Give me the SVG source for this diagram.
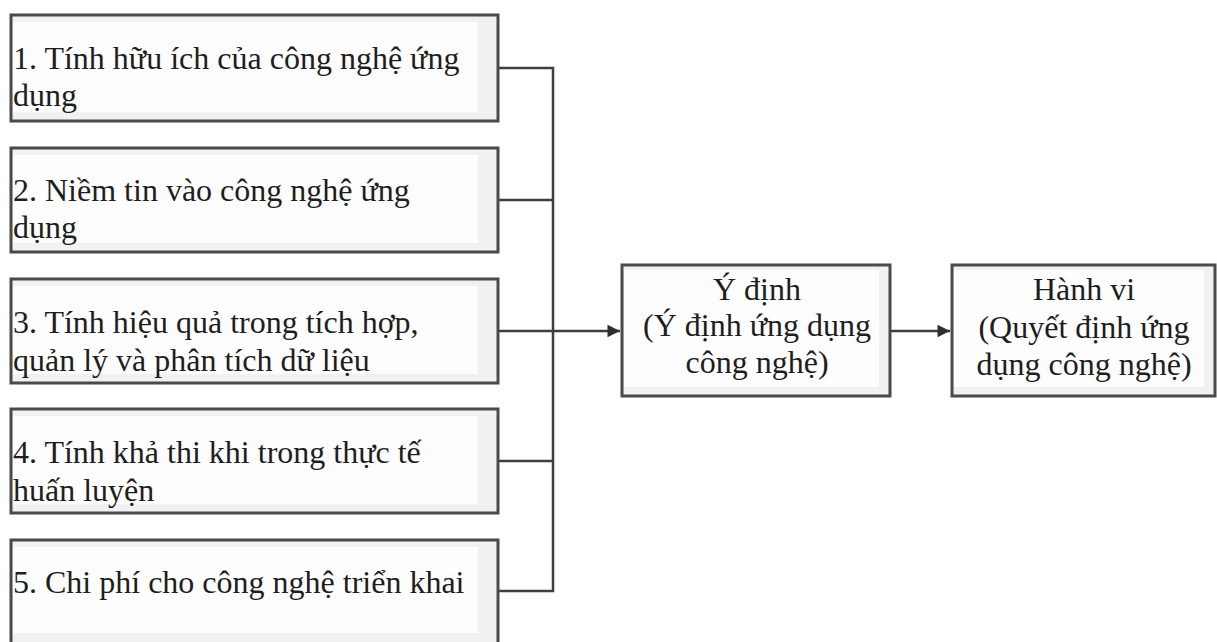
<svg xmlns="http://www.w3.org/2000/svg" width="1217" height="642" viewBox="0 0 1217 642">
  <defs>
    <style>
      .box { fill: #f1f1f1; stroke: #4a4a4a; stroke-width: 3; }
      .inner { fill: #fdfdfd; }
      .lbl { font-family: "Liberation Serif", "Times New Roman", serif; font-size: 32px; fill: #1e1e1e; }
      .mid { text-anchor: middle; }
      .wire { fill: none; stroke: #3f3f3f; stroke-width: 2.5; }
    </style>
    <marker id="arrow" viewBox="0 0 10 10" refX="10" refY="5" markerWidth="8" markerHeight="5" markerUnits="strokeWidth" orient="auto">
      <path d="M0,0 L10,5 L0,10 z" fill="#2e2e2e"/>
    </marker>
  </defs>

  <rect width="1217" height="642" fill="#ffffff"/>

  <!-- connectors: factor boxes join a shared bus feeding the intention box -->
  <g id="connectors">
    <path class="wire" d="M498,68 H553 V591 H498"/>
    <path class="wire" d="M498,200 H553"/>
    <path class="wire" d="M498,331 H553"/>
    <path class="wire" d="M498,461 H553"/>
    <path class="wire" d="M553,331 H620" marker-end="url(#arrow)"/>
    <path class="wire" d="M890,331 H950" marker-end="url(#arrow)"/>
  </g>

  <!-- factor 1 -->
  <g id="factor1">
    <rect class="box" x="11" y="15" width="487" height="106"/>
    <rect class="inner" x="13" y="22" width="465" height="90"/>
    <text class="lbl" x="13" y="69">1. Tính hữu ích của công nghệ ứng</text>
    <text class="lbl" x="13" y="106">dụng</text>
  </g>

  <!-- factor 2 -->
  <g id="factor2">
    <rect class="box" x="11" y="148" width="487" height="104"/>
    <rect class="inner" x="13" y="155" width="465" height="88"/>
    <text class="lbl" x="13" y="201">2. Niềm tin vào công nghệ ứng</text>
    <text class="lbl" x="13" y="238">dụng</text>
  </g>

  <!-- factor 3 -->
  <g id="factor3">
    <rect class="box" x="11" y="279" width="487" height="104"/>
    <rect class="inner" x="13" y="286" width="465" height="88"/>
    <text class="lbl" x="13" y="333">3. Tính hiệu quả trong tích hợp,</text>
    <text class="lbl" x="13" y="371">quản lý và phân tích dữ liệu</text>
  </g>

  <!-- factor 4 -->
  <g id="factor4">
    <rect class="box" x="11" y="409" width="487" height="104"/>
    <rect class="inner" x="13" y="416" width="465" height="88"/>
    <text class="lbl" x="13" y="463">4. Tính khả thi khi trong thực tế</text>
    <text class="lbl" x="13" y="501">huấn luyện</text>
  </g>

  <!-- factor 5 -->
  <g id="factor5">
    <rect class="box" x="11" y="540" width="487" height="106"/>
    <rect class="inner" x="13" y="547" width="465" height="86"/>
    <text class="lbl" x="13" y="593">5. Chi phí cho công nghệ triển khai</text>
  </g>

  <!-- intention -->
  <g id="intention">
    <rect class="box" x="622" y="265" width="268" height="131"/>
    <rect class="inner" x="624" y="270" width="255" height="117"/>
    <text class="lbl mid" x="757" y="300">Ý định</text>
    <text class="lbl mid" x="757" y="336">(Ý định ứng dụng</text>
    <text class="lbl mid" x="757" y="373">công nghệ)</text>
  </g>

  <!-- behaviour -->
  <g id="behaviour">
    <rect class="box" x="952" y="265" width="263" height="131"/>
    <rect class="inner" x="954" y="270" width="250" height="117"/>
    <text class="lbl mid" x="1084" y="300">Hành vi</text>
    <text class="lbl mid" x="1084" y="338">(Quyết định ứng</text>
    <text class="lbl mid" x="1084" y="375">dụng công nghệ)</text>
  </g>
</svg>
